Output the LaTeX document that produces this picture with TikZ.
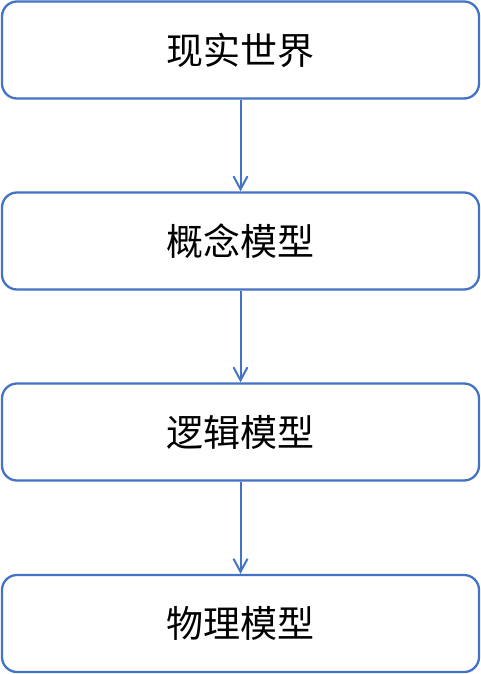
\documentclass[tikz,border=0pt]{standalone}
\usepackage{fontspec}
\newfontfamily\cjk{Noto Sans CJK SC}
\usetikzlibrary{arrows.meta}
\definecolor{boxblue}{HTML}{4472C4}
\tikzset{
  stagebox/.style={draw=boxblue, line width=2.3pt, rounded corners=15pt, minimum width=477pt, minimum height=97pt, inner sep=0pt, font=\cjk\fontsize{37pt}{40pt}\selectfont, text=black},
  flowarrow/.style={draw=boxblue, line width=2pt, -{Straight Barb[length=13pt,width=14pt,line width=2pt]}}
}
\begin{document}
\begin{tikzpicture}[x=1pt,y=-1pt]
\useasboundingbox (0,0) rectangle (481,674);
\node[stagebox] (a) at (240.5,50) {现实世界};
\node[stagebox] (b) at (240.5,241) {概念模型};
\node[stagebox] (c) at (240.5,432) {逻辑模型};
\node[stagebox] (d) at (240.5,623.5) {物理模型};
\draw[flowarrow] (a.south) -- (b.north);
\draw[flowarrow] (b.south) -- (c.north);
\draw[flowarrow] (c.south) -- (d.north);
\end{tikzpicture}
\end{document}
